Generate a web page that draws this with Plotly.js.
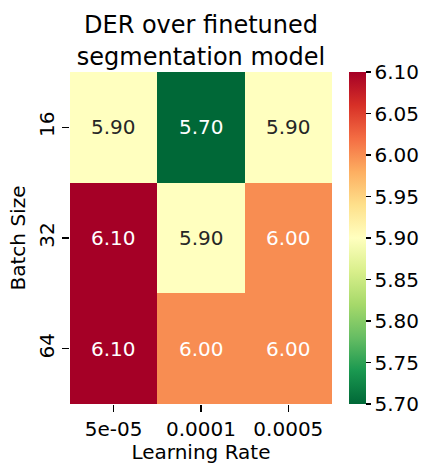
<!DOCTYPE html>
<html>
<head>
<meta charset="utf-8">
<script src="https://cdn.plot.ly/plotly-3.0.1.min.js"></script>
<style>
  html, body { margin: 0; padding: 0; background: #fff; }
  #chart { width: 431px; height: 464px; }
</style>
</head>
<body>
<div id="chart"></div>
<script>
// Grid search results: DER for each (batch size, learning rate) pair
const learningRates = ['5e-05', '0.0001', '0.0005'];
const batchSizes = ['16', '32', '64'];
const derRow16 = [5.90, 5.70, 5.90];
const derRow32 = [6.10, 5.90, 6.00];
const derRow64 = [6.10, 6.00, 6.00];
const colorbarTicks = [5.70, 5.75, 5.80, 5.85, 5.90, 5.95, 6.00, 6.05, 6.10];

const z = [derRow16, derRow32, derRow64];
const zMin = 5.70, zMax = 6.10;

// Reversed red-yellow-green diverging scale (low = green, high = red)
const rdYlGnR = [
  '#006837', '#1a9850', '#66bd63', '#a6d96a', '#d9ef8b', '#ffffbf',
  '#fee08b', '#fdae61', '#f46d43', '#d73027', '#a50026'
].map((c, i, arr) => [i / (arr.length - 1), c]);

const FONT = 'DejaVu Sans, sans-serif';

// Cell labels (placed by category index): dark text on light cells, white elsewhere
const annotations = [];
z.forEach((row, r) => {
  row.forEach((v, c) => {
    const t = (v - zMin) / (zMax - zMin);
    const light = t > 0.4 && t < 0.6;
    annotations.push({
      x: c, y: r, xref: 'x', yref: 'y',
      text: v.toFixed(2), showarrow: false,
      font: { family: FONT, size: 20, color: light ? '#262626' : '#ffffff' }
    });
  });
});

const trace = {
  type: 'heatmap',
  x: learningRates,
  y: batchSizes,
  z: z,
  zmin: zMin, zmax: zMax,
  colorscale: rdYlGnR,
  hoverinfo: 'skip',
  colorbar: {
    x: 1.063, xanchor: 'left', xref: 'paper',
    y: 0, yanchor: 'bottom', len: 1, lenmode: 'fraction',
    thickness: 17, outlinewidth: 0,
    ticks: 'outside', ticklen: 5, tickwidth: 1.5, tickcolor: '#000',
    tickvals: colorbarTicks, ticktext: colorbarTicks.map(v => v.toFixed(2)),
    tickfont: { family: FONT, size: 20, color: '#000' },
    ypad: 0, xpad: 0
  }
};

const layout = {
  width: 431, height: 464,
  margin: { l: 70, r: 93, t: 72, b: 60 },
  paper_bgcolor: '#fff', plot_bgcolor: '#fff',
  font: { family: FONT, color: '#000' },
  title: {
    text: 'DER over finetuned<br>segmentation model',
    font: { family: FONT, size: 24, color: '#000' },
    xref: 'paper', x: 0.5, xanchor: 'center',
    yref: 'container', y: 0.928, yanchor: 'top'
  },
  xaxis: {
    type: 'category', categoryorder: 'array', categoryarray: learningRates,
    range: [-0.5, 2.5],
    showgrid: false, zeroline: false, showline: false,
    ticks: 'outside', ticklen: 7, tickwidth: 1.5, tickcolor: '#000',
    tickfont: { family: FONT, size: 20, color: '#000' },
    title: { text: 'Learning Rate', font: { family: FONT, size: 20, color: '#000' }, standoff: 4 }
  },
  yaxis: {
    type: 'category', categoryorder: 'array', categoryarray: batchSizes,
    range: [2.5, -0.5],
    showgrid: false, zeroline: false, showline: false,
    ticks: 'outside', ticklen: 7, tickwidth: 1.5, tickcolor: '#000',
    tickangle: -90,
    tickfont: { family: FONT, size: 20, color: '#000' },
    title: { text: 'Batch Size', font: { family: FONT, size: 20, color: '#000' }, standoff: 4 }
  },
  annotations: annotations
};

Plotly.newPlot('chart', [trace], layout, { staticPlot: true, displayModeBar: false });
</script>
</body>
</html>
